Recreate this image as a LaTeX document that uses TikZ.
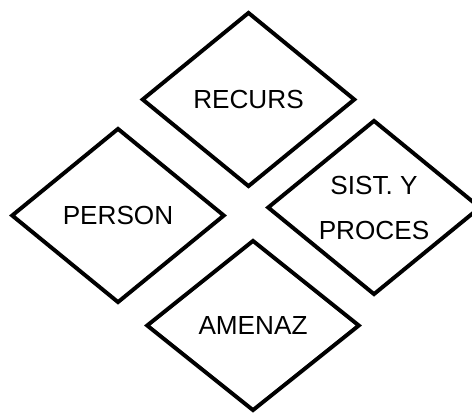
\documentclass[tikz,border=0pt]{standalone}
\usepackage{fontspec}
\setmainfont{Liberation Sans}
\usetikzlibrary{shapes.geometric}

\begin{document}
\begin{tikzpicture}[
  x=0.025cm, y=-0.025cm,
  diabox/.style={
    diamond, draw=black, line width=2.8pt, line join=miter,
    minimum width=5.33cm, minimum height=4.37cm,
    shape aspect=1.2, inner sep=0pt, align=center,
    font=\fontsize{18.6}{32}\selectfont,
  },
]

% Page frame
\useasboundingbox (0,0) rectangle (472,413);

% ---- Diamonds ----
\node[diabox] (recurs) at (248.5, 99.5) {RECURS};
\node[diabox] (person) at (118, 215.5) {PERSON};
\node[diabox] (sistemas) at (374, 207.5) {SIST. Y\\PROCES};
\node[diabox, minimum height=4.27cm] (amenaz) at (253, 325.5) {AMENAZ};

\end{tikzpicture}
\end{document}
